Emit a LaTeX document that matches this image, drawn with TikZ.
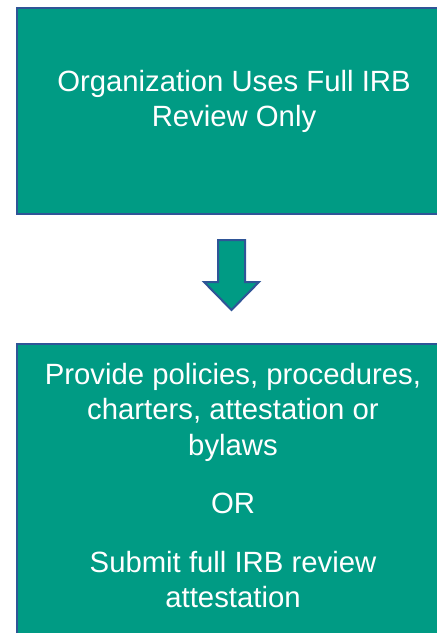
\documentclass[tikz,border=0pt]{standalone}
\usepackage{fontspec}
\setmainfont{Liberation Sans}
\usepackage{tikz}
\usetikzlibrary{positioning}
\definecolor{boxteal}{RGB}{0,155,132}
\definecolor{boxblue}{RGB}{47,85,151}

\begin{document}
\begin{tikzpicture}[x=1pt,y=-1pt,
    stepbox/.style={rectangle,draw=boxblue,fill=boxteal,line width=2pt,inner sep=0pt},
    boxtext/.style={text=white,align=center,inner sep=0pt,font=\fontsize{29.3}{35.5}\selectfont}]
    \useasboundingbox (0,0) rectangle (437,633);
    \clip (0,0) rectangle (437,633);
    %
    \node[stepbox,minimum width=424pt,minimum height=206pt] (orgbox) at (229,111) {};
    \node[boxtext,anchor=north] (orgtext) at (234,70) {Organization Uses Full IRB\\Review Only};
    %
    \node[stepbox,minimum width=424pt,minimum height=300pt] (provbox) at (229,494) {};
    \node[boxtext,anchor=north] (provtext) at (233,363) {Provide policies, procedures,\\charters, attestation or\\bylaws\\[23pt]OR\\[23pt]Submit full IRB review\\attestation};
    %
    \draw[boxblue,fill=boxteal,line width=2pt,line join=miter]
      (218,240) -- (245,240) -- (245,282) -- (259,282) -- (231.5,310) -- (204,282) -- (218,282) -- cycle;
\end{tikzpicture}
\end{document}
